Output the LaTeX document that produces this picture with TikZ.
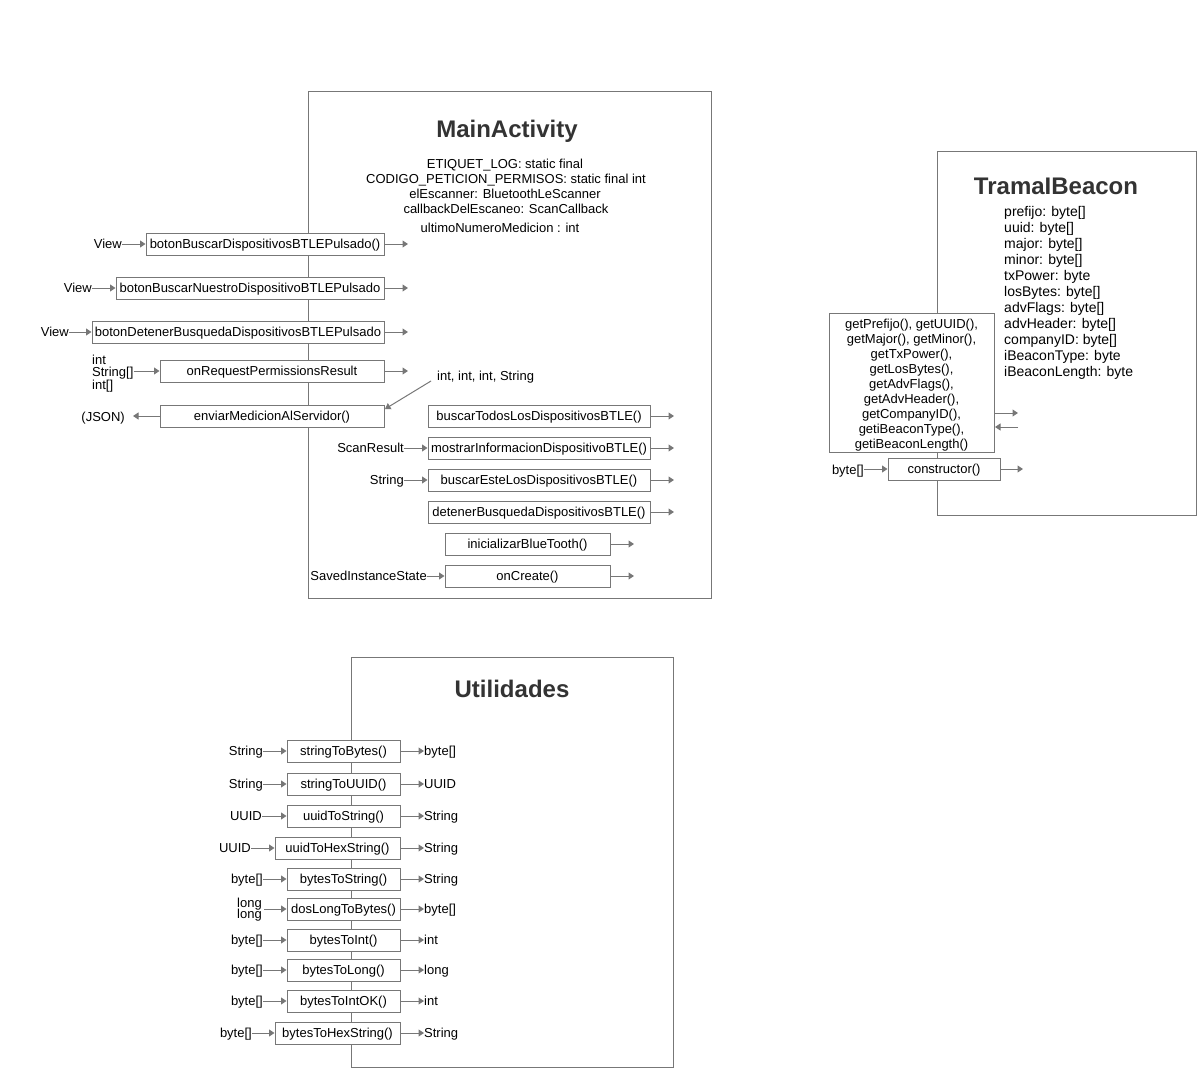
\documentclass[tikz,border=0pt]{standalone}
\usepackage{fontspec}
\setmainfont{Liberation Sans}
\usetikzlibrary{arrows.meta}
\definecolor{linec}{RGB}{119,119,119}
\definecolor{titlec}{RGB}{51,51,51}
\newcommand\fsz{\fontsize{13}{15}\selectfont}
\newcommand\fszb{\fontsize{14}{16}\selectfont}
\newcommand\urow[7]{%
  \node[mbox,minimum width={400-#2}] (#1) at ({(400+#2)/2},#3) {#4};
  \node[txt,anchor=east] (#1i) at (#6,#3) {#5};
  \node[txt,anchor=west] (#1o) at (424,#3) {#7};
  \draw[arr] (#1i.east) -- (#1.west);
  \draw[arr] (#1.east) -- (#1o.west);
}
\begin{document}
\begin{tikzpicture}[x=1pt,y=-1pt,
 lin/.style={draw=linec,line width=1pt},
 arr/.style={lin,-{Triangle[length=5.5pt,width=7pt]}},
 txt/.style={inner sep=0pt,font=\fsz,text height=9.3pt,text depth=0pt},
 txtb/.style={inner sep=0pt,font=\fszb,text height=10pt,text depth=0pt},
 mbox/.style={draw=linec,line width=1pt,fill=white,minimum height=22pt,inner sep=0pt,font=\fsz,text height=9.3pt,text depth=0pt},
 bigbox/.style={draw=linec,line width=1pt,inner sep=0pt,anchor=north west},
 ttl/.style={inner sep=0pt,font=\bfseries\fontsize{24}{28}\selectfont,text=titlec,text height=17.2pt,text depth=0pt},
]
\path[use as bounding box,fill=white] (0,0) rectangle (1198,1068);

% ---------------- MainActivity ----------------
\node[bigbox,minimum width=403,minimum height=507] (ma) at (308,91) {};
\node[ttl] (mat) at (507,129) {MainActivity};
\node[txt] (a1) at (505,163.5) {ETIQUET\_LOG: static final};
\node[txt] (a2) at (506,178.5) {CODIGO\_PETICION\_PERMISOS: static final int};
\node[txt] (a3) at (505,193.5) {elEscanner: BluetoothLeScanner};
\node[txt] (a4) at (506,208.5) {callbackDelEscaneo: ScanCallback};
\node[txt] (a5) at (500,227.5) {ultimoNumeroMedicion : int};

\node[mbox,minimum width=238] (m1) at (265,244) {botonBuscarDispositivosBTLEPulsado()};
\node[txt,anchor=east] (m1i) at (122,244) {View};
\coordinate (m1o) at (408,244);
\draw[arr] (m1i.east) -- (m1.west);
\draw[arr] (m1.east) -- (m1o);

\node[mbox,minimum width=268] (m2) at (250,288) {botonBuscarNuestroDispositivoBTLEPulsado};
\node[txt,anchor=east] (m2i) at (92,288) {View};
\coordinate (m2o) at (408,288);
\draw[arr] (m2i.east) -- (m2.west);
\draw[arr] (m2.east) -- (m2o);

\node[mbox,minimum width=292] (m3) at (238,332) {botonDetenerBusquedaDispositivosBTLEPulsado};
\node[txt,anchor=east] (m3i) at (69,332) {View};
\coordinate (m3o) at (408,332);
\draw[arr] (m3i.east) -- (m3.west);
\draw[arr] (m3.east) -- (m3o);

\node[mbox,minimum width=224] (m4) at (272,371) {onRequestPermissionsResult};
\node[txt,anchor=west] (m4a) at (92,359.5) {int};
\node[txt,anchor=west] (m4i) at (92,372) {String[]};
\node[txt,anchor=west] (m4c) at (92,384.5) {int[]};
\coordinate (m4o) at (408,371);
\draw[arr] (m4i.east |- m4.west) -- (m4.west);
\draw[arr] (m4.east) -- (m4o);

\node[mbox,minimum width=224] (m5) at (272,416) {enviarMedicionAlServidor()};
\node[txt,anchor=east] (json) at (125,416.5) {(JSON)};
\coordinate (jsont) at (133,416);
\draw[arr] (m5.west) -- (jsont);
\node[txt,anchor=west] (ints) at (437,375.5) {int, int, int, String};
\coordinate (intsa) at (431,381);
\coordinate (m5t) at (385,409);
\draw[arr] (intsa) -- (m5t);

\node[mbox,minimum width=222] (r1) at (539,416) {buscarTodosLosDispositivosBTLE()};
\coordinate (r1o) at (674,416);
\draw[arr] (r1.east) -- (r1o);

\node[mbox,minimum width=222] (r2) at (539,448) {mostrarInformacionDispositivoBTLE()};
\node[txt,anchor=east] (r2i) at (404,448) {ScanResult};
\coordinate (r2o) at (674,448);
\draw[arr] (r2i.east) -- (r2.west);
\draw[arr] (r2.east) -- (r2o);

\node[mbox,minimum width=222] (r3) at (539,480) {buscarEsteLosDispositivosBTLE()};
\node[txt,anchor=east] (r3i) at (404,480) {String};
\coordinate (r3o) at (674,480);
\draw[arr] (r3i.east) -- (r3.west);
\draw[arr] (r3.east) -- (r3o);

\node[mbox,minimum width=222] (r4) at (539,512) {detenerBusquedaDispositivosBTLE()};
\coordinate (r4o) at (674,512);
\draw[arr] (r4.east) -- (r4o);

\node[mbox,minimum width=165] (r5) at (527.5,544) {inicializarBlueTooth()};
\coordinate (r5o) at (634,544);
\draw[arr] (r5.east) -- (r5o);

\node[mbox,minimum width=165] (r6) at (527.5,576) {onCreate()};
\node[txt,anchor=east] (r6i) at (427,576) {SavedInstanceState};
\coordinate (r6o) at (634,576);
\draw[arr] (r6i.east) -- (r6.west);
\draw[arr] (r6.east) -- (r6o);

% ---------------- TramaIBeacon ----------------
\node[bigbox,minimum width=259,minimum height=364] (tb) at (937,151) {};
\node[ttl] (tbt) at (1056,186) {TramaIBeacon};
\node[txtb,anchor=west] (t1) at (1004,211.5) {prefijo: byte[]};
\node[txtb,anchor=west] (t2) at (1004,227.5) {uuid: byte[]};
\node[txtb,anchor=west] (t3) at (1004,243.5) {major: byte[]};
\node[txtb,anchor=west] (t4) at (1004,259.5) {minor: byte[]};
\node[txtb,anchor=west] (t5) at (1004,275.5) {txPower: byte};
\node[txtb,anchor=west] (t6) at (1004,291.5) {losBytes: byte[]};
\node[txtb,anchor=west] (t7) at (1004,307.5) {advFlags: byte[]};
\node[txtb,anchor=west] (t8) at (1004,323.5) {advHeader: byte[]};
\node[txtb,anchor=west] (t9) at (1004,339.5) {companyID: byte[]};
\node[txtb,anchor=west] (t10) at (1004,355.5) {iBeaconType: byte};
\node[txtb,anchor=west] (t11) at (1004,371.5) {iBeaconLength: byte};

\node[bigbox,fill=white,minimum width=165,minimum height=139] (gb) at (829,313) {};
\node[txt] (g1) at (911.5,323.5) {getPrefijo(), getUUID(),};
\node[txt] (g2) at (911.5,338.5) {getMajor(), getMinor(),};
\node[txt] (g3) at (911.5,353.5) {getTxPower(),};
\node[txt] (g4) at (911.5,368.5) {getLosBytes(),};
\node[txt] (g5) at (911.5,383.5) {getAdvFlags(),};
\node[txt] (g6) at (911.5,398.5) {getAdvHeader(),};
\node[txt] (g7) at (911.5,413.5) {getCompanyID(),};
\node[txt] (g8) at (911.5,428.5) {getiBeaconType(),};
\node[txt] (g9) at (911.5,443.5) {getiBeaconLength()};
\coordinate (gbo) at (1018,413);
\coordinate (gbi) at (1018,427);
\draw[arr] (gb.east |- gbo) -- (gbo);
\draw[arr] (gbi) -- (gb.east |- gbi);

\node[mbox,minimum width=112] (ct) at (944,469) {constructor()};
\node[txt,anchor=east] (cti) at (864,469.5) {byte[]};
\coordinate (cto) at (1023,469);
\draw[arr] (cti.east |- ct.west) -- (ct.west);
\draw[arr] (ct.east) -- (cto);

% ---------------- Utilidades ----------------
\node[bigbox,minimum width=322,minimum height=410] (ut) at (351,657) {};
\node[ttl] (utt) at (512,689) {Utilidades};

\urow{ua}{287}{751}{stringToBytes()}{String}{263}{byte[]}
\urow{ub}{287}{784}{stringToUUID()}{String}{263}{UUID}
\urow{uc}{287}{816}{uuidToString()}{UUID}{262}{String}
\urow{ud}{275}{848}{uuidToHexString()}{UUID}{251}{String}
\urow{ue}{287}{879}{bytesToString()}{byte[]}{263}{String}

\node[mbox,minimum width=113] (uf) at (343.5,909) {dosLongToBytes()};
\node[txt,anchor=east] (ufa) at (262,902.5) {long};
\node[txt,anchor=east] (ufb) at (262,914) {long};
\coordinate (ufi) at (264,909);
\node[txt,anchor=west] (ufo) at (424,909) {byte[]};
\draw[arr] (ufi) -- (uf.west);
\draw[arr] (uf.east) -- (ufo.west);

\urow{ug}{287}{940}{bytesToInt()}{byte[]}{263}{int}
\urow{uh}{287}{970}{bytesToLong()}{byte[]}{263}{long}
\urow{ui}{287}{1001}{bytesToIntOK()}{byte[]}{263}{int}
\urow{uj}{275}{1033}{bytesToHexString()}{byte[]}{252}{String}
\end{tikzpicture}
\end{document}
